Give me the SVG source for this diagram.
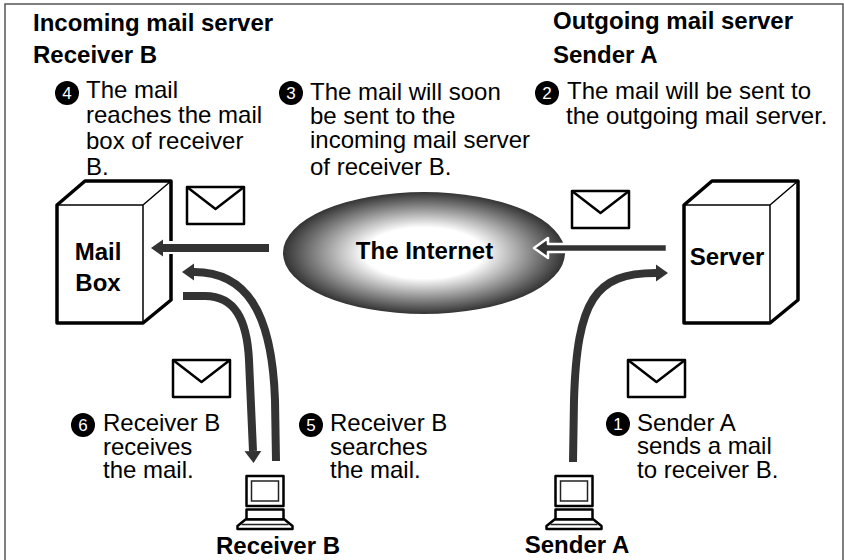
<svg xmlns="http://www.w3.org/2000/svg" width="844" height="560" viewBox="0 0 844 560">
<style>
text{font-family:"Liberation Sans",Arial,sans-serif;fill:#000;font-size:24px}
.h{font-weight:bold}
.m{text-anchor:middle}
.d{font-size:17px;fill:#fff;text-anchor:middle}
.box{fill:#fff;stroke:#000;stroke-width:3.5;stroke-linejoin:round}
.thin{fill:none;stroke:#000;stroke-width:1.5}
.env{fill:#fff;stroke:#000;stroke-width:2.5;stroke-linejoin:round}
.conn{fill:none;stroke:#333;stroke-width:8}
.pc{fill:#fff;stroke:#000;stroke-width:2.5;stroke-linejoin:round}
.pci{fill:#fff;stroke:#222;stroke-width:1.500}
</style>
<defs>
<radialGradient id="g" cx="50%" cy="50%" r="50%">
<stop offset="0.42" stop-color="#fff"/>
<stop offset="1" stop-color="#333"/>
</radialGradient>
<marker id="ah" markerUnits="userSpaceOnUse" markerWidth="14" markerHeight="18" refX="0" refY="9" orient="auto"><path d="M0 0.500L12 9L0 17.500z" fill="#333"/></marker>
<g id="envelope"><rect class="env" x="0" y="0" width="57" height="37"/><path class="env" d="M0 0L28.500 22L57 0" style="fill:none"/></g>
<g id="computer"><rect class="pc" x="9" y="0" width="37" height="30"/><rect class="pci" x="14" y="5" width="27" height="20"/><rect class="pc" x="9" y="33.500" width="37" height="10"/><path class="pc" d="M8 43.500H47L55 50V53H0V50z"/><path class="pci" d="M4 48.500H51"/></g>
</defs>
<rect x="5" y="4" width="838" height="560" fill="#fff" stroke="#555" stroke-width="1.500"/>
<g id="labels">
<text class="h" x="33" y="31">Incoming mail server</text>
<text class="h" x="33" y="63">Receiver B</text>
<text class="h" x="553" y="29">Outgoing mail server</text>
<text class="h" x="553" y="63">Sender A</text>
</g>
<g id="step4"><circle cx="67" cy="93" r="12"/><text class="d" x="67" y="99">4</text><text x="86" y="98">The mail<tspan x="86" y="123">reaches the mail</tspan><tspan x="86" y="149">box of receiver</tspan><tspan x="86" y="175">B.</tspan></text></g>
<g id="step3"><circle cx="291" cy="93" r="12"/><text class="d" x="291" y="99">3</text><text x="310" y="100">The mail will soon<tspan x="310" y="124">be sent to the</tspan><tspan x="310" y="148">incoming mail server</tspan><tspan x="310" y="175">of receiver B.</tspan></text></g>
<g id="step2"><circle cx="547" cy="93" r="12"/><text class="d" x="547" y="99">2</text><text x="567" y="99">The mail will be sent to<tspan x="566" y="124">the outgoing mail server.</tspan></text></g>
<g id="step6"><circle cx="83" cy="425" r="12"/><text class="d" x="83" y="431">6</text><text x="103" y="431">Receiver B<tspan x="103" y="455">receives</tspan><tspan x="103" y="478">the mail.</tspan></text></g>
<g id="step5"><circle cx="311" cy="425" r="12"/><text class="d" x="311" y="431">5</text><text x="330" y="431">Receiver B<tspan x="330" y="455">searches</tspan><tspan x="330" y="478">the mail.</tspan></text></g>
<g id="step1"><circle cx="618" cy="424" r="12"/><text class="d" x="618" y="430">1</text><text x="637" y="431">Sender A<tspan x="637" y="454">sends a mail</tspan><tspan x="637" y="478">to receiver B.</tspan></text></g>
<g id="mailbox"><path class="box" d="M57 205L85 181H171V300L143 323H57z"/><path class="thin" d="M57 205H143V323M143 205L171 181"/><text class="h m" x="98" y="260">Mail</text><text class="h m" x="98" y="291">Box</text></g>
<g id="server"><path class="box" d="M684 205L712 181H798V300L770 323H684z"/><path class="thin" d="M684 205H770V323M770 205L798 181"/><text class="h m" x="727" y="265">Server</text></g>
<g id="internet"><ellipse cx="424" cy="253" rx="141" ry="61" fill="url(#g)"/><text class="h m" x="424.500" y="259">The Internet</text></g>
<g id="connectors">
<path d="M171 241V254" stroke="#fff" stroke-width="8"/>
<path class="conn" d="M269 248H163" marker-end="url(#ah)"/>
<path d="M534 248L548 238V244H667V252H548V258z" fill="#333" stroke="#fff" stroke-width="2.500" stroke-linejoin="round"/>
<path class="conn" d="M573 462L574 400C577 300 595 273 656 273" marker-end="url(#ah)"/>
<path class="conn" d="M276 461L275 400C272 310 245 272 194 272" marker-end="url(#ah)"/>
<path class="conn" d="M183 296H205C235 296 247 320 249 360L253 451" marker-end="url(#ah)"/>
</g>
<use id="env1" href="#envelope" x="187" y="187"/>
<use id="env2" href="#envelope" x="572" y="191"/>
<use id="env3" href="#envelope" x="173" y="360"/>
<use id="env4" href="#envelope" x="628" y="360"/>
<use id="pcB" href="#computer" x="237.500" y="476"/>
<use id="pcA" href="#computer" x="546.500" y="476"/>
<g id="captions"><text class="h m" x="278" y="554">Receiver B</text><text class="h m" x="577" y="553">Sender A</text></g>
</svg>
